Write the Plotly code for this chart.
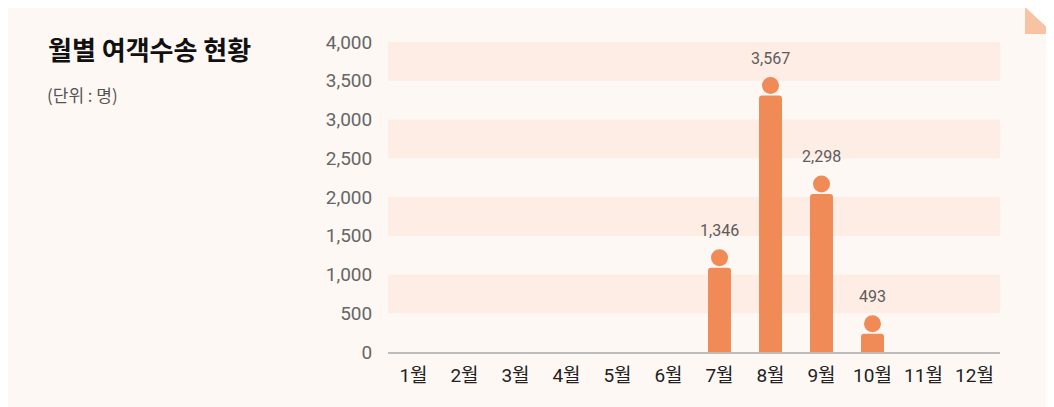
import plotly.graph_objects as go

months = ["1월", "2월", "3월", "4월", "5월", "6월", "7월", "8월", "9월", "10월", "11월", "12월"]
passengers = [None, None, None, None, None, None, 1346, 3567, 2298, 493, None, None]
y_ticks = [0, 500, 1000, 1500, 2000, 2500, 3000, 3500, 4000]
title_text = "월별 여객수송 현황"
unit_text = "(단위 : 명)"

# page has an 8px body margin, so the figure is sized to fill the rest of the window
W, H = 1046, 399
ML, MR, MT, MB = 380, 54, 34, 55
Y_MAX = 4000
plot_h = H - MT - MB
units_per_px = Y_MAX / plot_h

BAR_COLOR = "#f08a57"
STRIPE = "#fdede4"
CARD = "#fdf8f4"

bar_gap_px = 20   # bar top sits below value (icon: head + body)
head_px = 10      # head centre below value
label_px = 17     # label centre above value

xs = [m for m, v in zip(months, passengers) if v is not None]
vals = [v for v in passengers if v is not None]

fig = go.Figure()
fig.add_trace(go.Bar(
    x=xs, y=[v - bar_gap_px * units_per_px for v in vals],
    marker=dict(color=BAR_COLOR, cornerradius=3, line=dict(width=0)),
    width=0.45, hoverinfo="skip", showlegend=False,
))
fig.add_trace(go.Scatter(
    x=xs, y=[v - head_px * units_per_px for v in vals],
    mode="markers", marker=dict(color=BAR_COLOR, size=17, line=dict(width=0)),
    hoverinfo="skip", showlegend=False,
))
for m, v in zip(xs, vals):
    fig.add_annotation(x=m, y=v, yshift=label_px, text=f"{v:,}", showarrow=False,
                       font=dict(family="Roboto, Noto Sans CJK KR", size=16, color="#5c5c5c"),
                       yanchor="middle")

shapes = []
for lo in [500, 1500, 2500, 3500]:
    shapes.append(dict(type="rect", xref="paper", yref="y", x0=0, x1=1, y0=lo, y1=lo + 500,
                       fillcolor=STRIPE, line=dict(width=0), layer="below"))

def px2x(px):
    return (px - ML) / (W - ML - MR)

def px2y(py):
    return (H - MB - py) / plot_h

# folded corner
shapes.append(dict(type="path", xref="paper", yref="paper",
                   path=f"M {px2x(1018)} {px2y(0)} L {px2x(W)} {px2y(0)} L {px2x(W)} {px2y(26)} Z",
                   fillcolor="white", line=dict(width=0), layer="below"))
shapes.append(dict(type="path", xref="paper", yref="paper",
                   path=f"M {px2x(1017)} {px2y(-1)} L {px2x(1017)} {px2y(26)} L {px2x(W)} {px2y(26)} Z",
                   fillcolor="#f7c3a2", line=dict(width=0), layer="below"))

fig.add_annotation(xref="paper", yref="paper", x=px2x(38), y=px2y(40), xanchor="left", yanchor="middle",
                   text=f"<b>{title_text}</b>", showarrow=False,
                   font=dict(family="Noto Sans CJK KR", size=26, color="#111111"))
fig.add_annotation(xref="paper", yref="paper", x=px2x(37), y=px2y(86), xanchor="left", yanchor="middle",
                   text=unit_text, showarrow=False,
                   font=dict(family="Noto Sans CJK KR", size=17, color="#555555"))

fig.update_layout(
    width=W, height=H,
    margin=dict(l=ML, r=MR, t=MT, b=MB, pad=0),
    paper_bgcolor=CARD, plot_bgcolor="rgba(0,0,0,0)",
    shapes=shapes,
    xaxis=dict(categoryorder="array", categoryarray=months, tickvals=months, range=[-0.5, 11.5],
               showgrid=False, showline=True, linecolor="#bdbdbd", linewidth=2,
               ticks="outside", ticklen=5, tickcolor="rgba(0,0,0,0)",
               tickfont=dict(family="Roboto, Noto Sans CJK KR", size=19, color="#222222"),
               fixedrange=True),
    yaxis=dict(range=[0, Y_MAX], tickvals=y_ticks, tickformat=",", showgrid=False, zeroline=False,
               ticks="outside", ticklen=11, tickcolor="rgba(0,0,0,0)",
               tickfont=dict(family="Roboto", size=19, color="#666666"), fixedrange=True),
    font=dict(family="Roboto, Noto Sans CJK KR"),
)

fig.write_html("out.html", config={"displayModeBar": False})
